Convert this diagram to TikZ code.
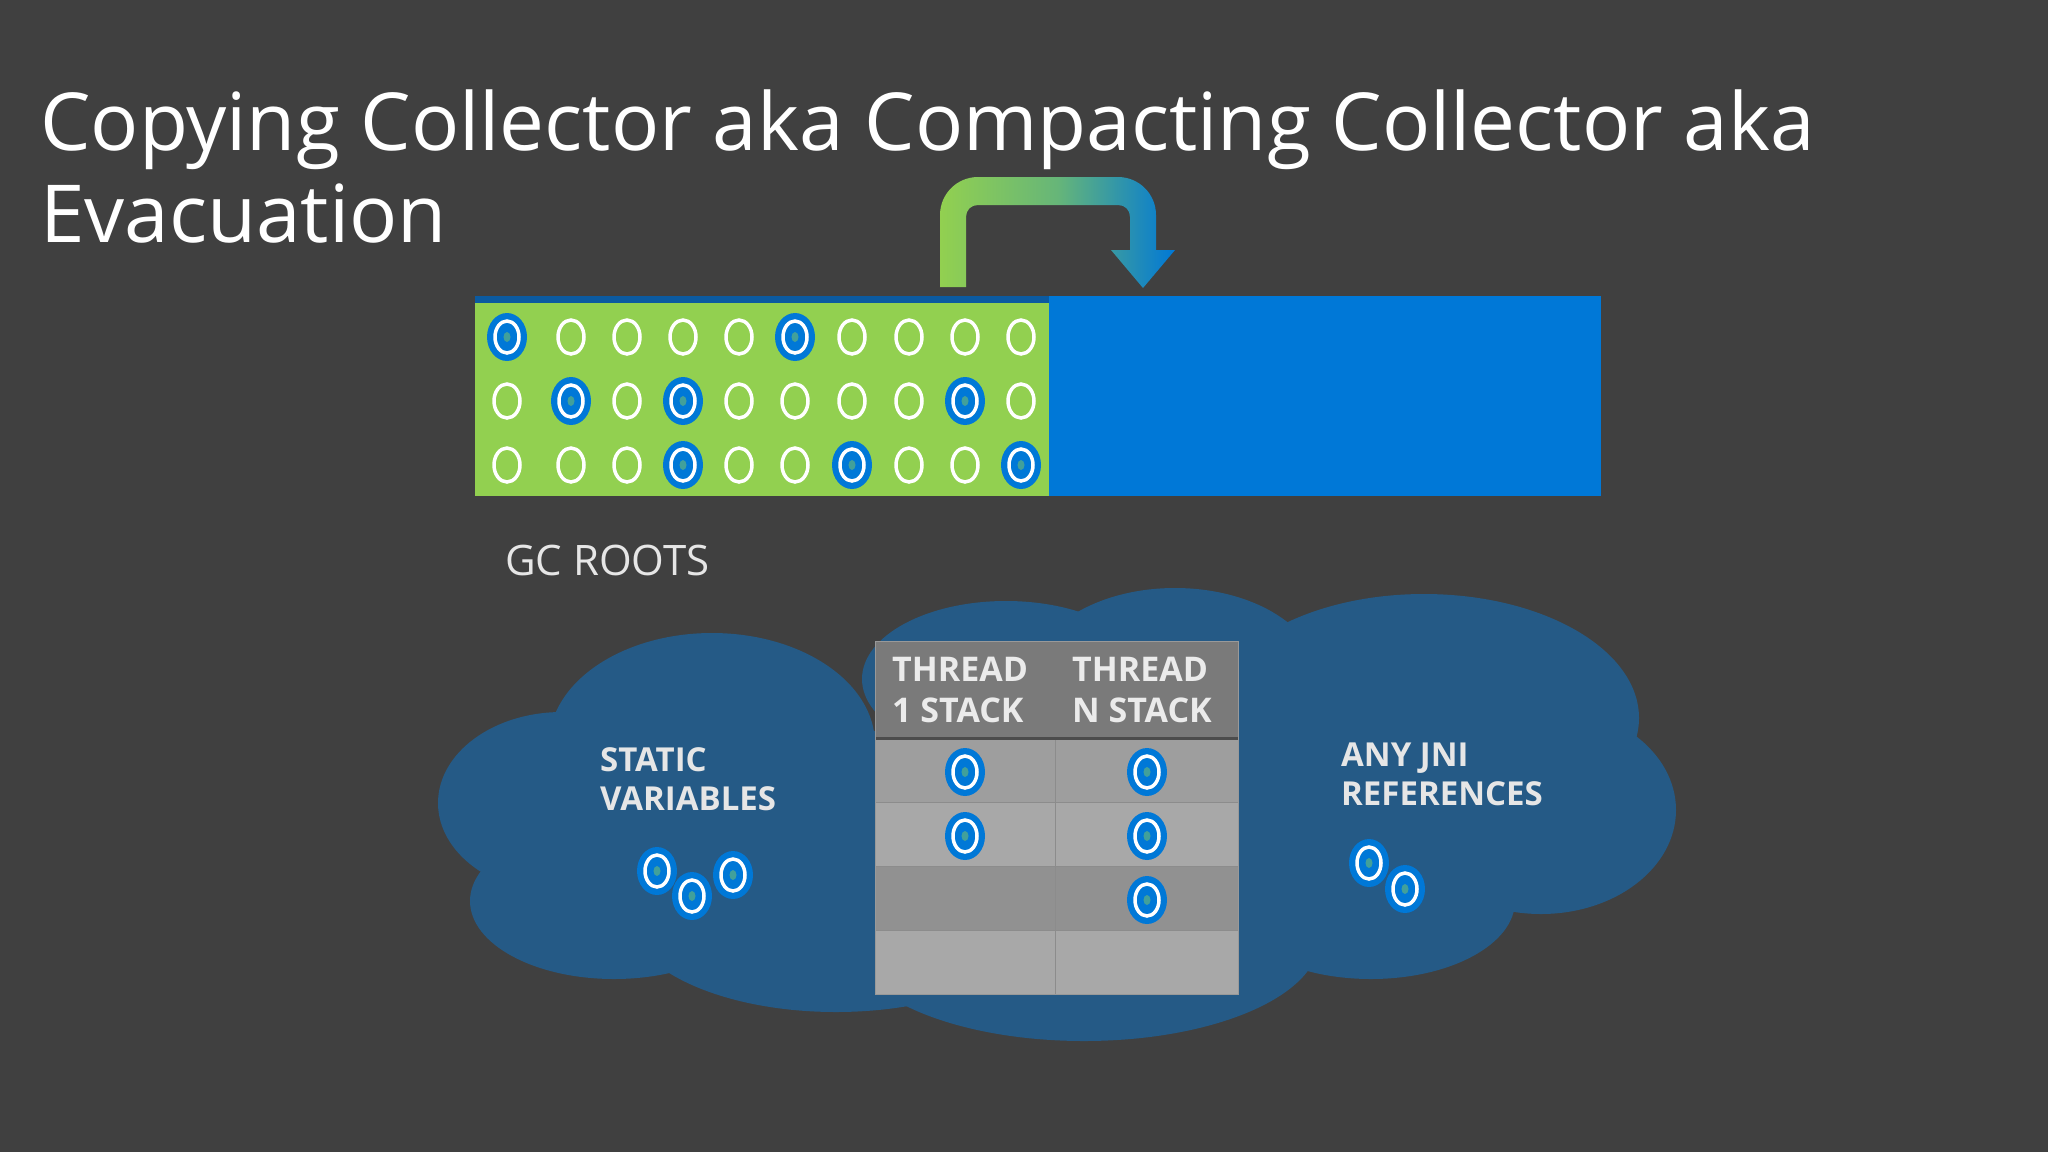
\documentclass[tikz,border=0pt]{standalone}
\usepackage{fontspec}
\setmainfont{Open Sans}
\usetikzlibrary{shapes.geometric}
\definecolor{bg}{HTML}{404040}
\definecolor{gr}{HTML}{92D050}
\definecolor{bl}{HTML}{0078D7}
\definecolor{dbl}{HTML}{0B5AA0}
\definecolor{cloud}{HTML}{255A86}
\definecolor{hdr}{HTML}{7A7A7A}
\definecolor{cellA}{HTML}{9E9E9E}
\definecolor{cellB}{HTML}{A8A8A8}
\definecolor{txt}{HTML}{E6E6E6}
\tikzset{
  obj/.style={ellipse,draw=white,line width=3.5pt,minimum width=26pt,minimum height=34pt,inner sep=0pt},
  live/.style={obj,fill=bl,line width=3.5pt,minimum width=24pt,minimum height=32pt},
  dot/.style={ellipse,fill=gr!45!bl,minimum width=7pt,minimum height=10pt,inner sep=0pt},
  glow/.style={ellipse,fill=bl,minimum width=40pt,minimum height=48pt,inner sep=0pt},
  lbl/.style={text=txt,font=\bfseries\fontsize{33}{39}\selectfont,align=left,anchor=base west,inner sep=0pt},
  hd/.style={lbl,font=\bfseries\fontsize{34}{41}\selectfont,text=white!92!black},
}
\newcommand{\liveobj}[2]{\node[glow] at (#1) {}; \node[live] (#2) at (#1) {}; \node[dot] at (#1) {};}
\begin{document}
\begin{tikzpicture}[x=1pt,y=-1pt]
\fill[bg] (0,0) rectangle (2048,1152);
\useasboundingbox (0,0) rectangle (2048,1152);
% title
\node[anchor=base west,text=white,inner sep=0pt,font=\fontsize{80}{92}\selectfont] (t1) at (40,150) {Copying Collector aka Compacting Collector aka};
\node[anchor=base west,text=white,inner sep=0pt,font=\fontsize{80}{92}\selectfont] (t2) at (40,242) {Evacuation};
% heap
\fill[bl] (1049,296) rectangle (1601,496);
\fill[gr] (475,303) rectangle (1049,496);
\fill[dbl] (475,296) rectangle (1049,303);
% arrow
\shade[left color=gr,right color=bl,middle color=gr!70!bl]
 (940,287) -- (940,215) .. controls (940,194) and (957,177) .. (978,177) -- (1118,177)
 .. controls (1139,177) and (1156,194) .. (1156,215) -- (1156,250) -- (1175,250) -- (1143,288) -- (1111,250) -- (1130,250)
 -- (1130,217) .. controls (1130,210) and (1125,205) .. (1118,205) -- (978,205)
 .. controls (971,205) and (966,210) .. (966,217) -- (966,287) -- cycle;
% grid objects
\foreach \r/\y in {1/337,2/401,3/465}{
 \foreach \c/\x in {1/507,2/571,3/627,4/683,5/739,6/795,7/852,8/909,9/965,10/1021}{
  \node[obj] (o\r-\c) at (\x,\y) {};
 }}
\foreach \r/\c in {1/1,1/6,2/2,2/4,2/9,3/4,3/7,3/10}{
  \pgfmathsetmacro\xx{{0,507,571,627,683,739,795,852,909,965,1021}[\c]}
  \pgfmathsetmacro\yy{{0,337,401,465}[\r]}
  \node[glow] at (\xx,\yy) {};
  \node[live] (l\r-\c) at (\xx,\yy) {};
  \node[dot] at (\xx,\yy) {};
}
% GC roots
\node[anchor=base west,inner sep=0pt,text=txt,font=\fontsize{42}{50}\selectfont] (gc) at (505,575) {GC ROOTS};
% cloud
\begin{scope}[fill=cloud]
\fill (562,803) ellipse[x radius=124,y radius=91];
\fill (712,744) ellipse[x radius=163,y radius=111];
\fill (614,901) ellipse[x radius=144,y radius=78];
\fill (836,914) ellipse[x radius=209,y radius=98];
\fill (1006,679) ellipse[x radius=144,y radius=78];
\fill (1175,679) ellipse[x radius=144,y radius=91];
\fill (1424,718) ellipse[x radius=215,y radius=124];
\fill (1541,810) ellipse[x radius=135,y radius=104];
\fill (1371,901) ellipse[x radius=144,y radius=78];
\fill (1084,940) ellipse[x radius=235,y radius=101];
\fill (679,731) rectangle (1440,940);
\end{scope}
% table
\fill[hdr] (875,641) rectangle (1238,738);
\fill[cellA] (875,738) rectangle (1238,802);
\fill[cellB] (875,802) rectangle (1238,866);
\fill[cellA!92!black] (875,866) rectangle (1238,930);
\fill[cellB] (875,930) rectangle (1238,994);
\draw[black!45,line width=1pt] (875,802) -- (1238,802) (875,866) -- (1238,866) (875,930) -- (1238,930) (1055,738) -- (1055,994);
\draw[black!70,line width=3pt] (875,738) -- (1238,738);
\draw[black!40,line width=1pt] (875,641) rectangle (1238,994);
\node[hd] (th1) at (892,722) {THREAD\\1 STACK};
\node[hd] (thn) at (1072,722) {THREAD\\N STACK};
\liveobj{965,772}{s11}
\liveobj{965,836}{s12}
\liveobj{1147,772}{sn1}
\liveobj{1147,836}{sn2}
\liveobj{1147,900}{sn3}
% static
\node[lbl] (sv) at (600,810) {STATIC\\VARIABLES};
\liveobj{657,871}{v1}
\liveobj{692,896}{v2}
\liveobj{733,875}{v3}
% JNI
\node[lbl] (jni) at (1341,805) {ANY JNI\\REFERENCES};
\liveobj{1369,863}{j1}
\liveobj{1405,889}{j2}
\end{tikzpicture}
\end{document}
